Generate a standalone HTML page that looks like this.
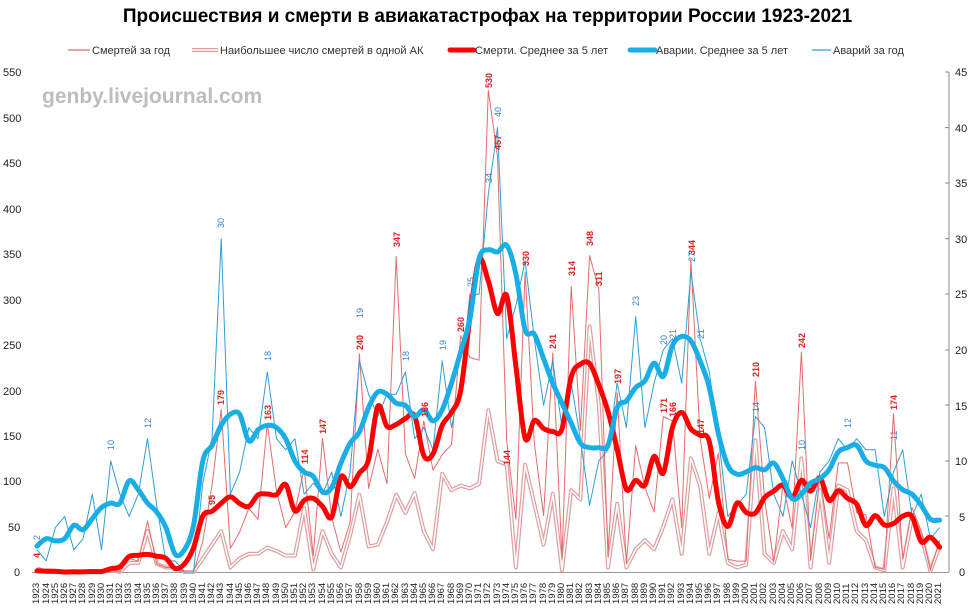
<!DOCTYPE html>
<html><head><meta charset="utf-8">
<style>
body{margin:0;background:#fff;width:975px;height:615px;overflow:hidden;position:relative;font-family:"Liberation Sans Narrow","Liberation Sans",sans-serif}
#t{position:absolute;left:0;top:6px;width:975px;text-align:center;font:bold 19px "Liberation Sans Narrow","Liberation Sans",sans-serif;color:#000}
#years{position:absolute;left:32.4px;top:577px;height:30px;display:flex}
#years span{width:9.21px;height:30px;position:relative}
#years span i{position:absolute;left:0;top:0;font-style:normal;font-size:9.5px;line-height:9px;transform-origin:0 0;transform:translate(0px,27px) rotate(-90deg);white-space:nowrap;color:#222;font-family:"Liberation Sans",sans-serif}
svg{position:absolute;left:0;top:0}
</style></head><body>
<div id="t">Происшествия и смерти в авиакатастрофах на территории России 1923-2021</div>
<svg id="s" width="975" height="615" xmlns="http://www.w3.org/2000/svg" font-family="Liberation Sans Narrow, Liberation Sans, sans-serif">
<g font-size="11" fill="#333">
<line x1="68" y1="50" x2="90" y2="50" stroke="#e46c6c" stroke-width="1.3"/><text x="92" y="54">Смертей за год</text>
<line x1="192" y1="50" x2="218" y2="50" stroke="#e0a0a0" stroke-width="4"/><line x1="192" y1="50" x2="218" y2="50" stroke="#fff" stroke-width="1.5"/><text x="220" y="54">Наибольшее число смертей в одной АК</text>
<line x1="450" y1="50" x2="474" y2="50" stroke="#f00" stroke-width="5" stroke-linecap="round"/><text x="475" y="54">Смерти. Среднее за 5 лет</text>
<line x1="630" y1="50" x2="655" y2="50" stroke="#1aaee6" stroke-width="5" stroke-linecap="round"/><text x="656" y="54">Аварии. Среднее за 5 лет</text>
<line x1="812" y1="50" x2="831" y2="50" stroke="#2e9fd8" stroke-width="1.3"/><text x="833" y="54">Аварий за год</text>
</g>
<text x="42" y="103" font-size="21" font-weight="bold" fill="#bdbdbd" font-family="Liberation Sans, sans-serif">genby.livejournal.com</text>
<g font-size="11" fill="#222" text-anchor="start">
<text x="3" y="76">550</text><text x="3" y="122">500</text><text x="3" y="167">450</text><text x="3" y="213">400</text><text x="3" y="258">350</text><text x="3" y="304">300</text><text x="3" y="349">250</text><text x="3" y="395">200</text><text x="3" y="440">150</text><text x="3" y="485">100</text><text x="8" y="531">50</text><text x="14" y="576">0</text>
<text x="955" y="76">45</text><text x="955" y="132">40</text><text x="955" y="187">35</text><text x="955" y="243">30</text><text x="955" y="298">25</text><text x="955" y="354">20</text><text x="955" y="410">15</text><text x="955" y="465">10</text><text x="959" y="521">5</text><text x="959" y="576">0</text>
</g>
<line x1="949" y1="72" x2="949" y2="572" stroke="#888"/>
<g stroke="#888"><line x1="945" y1="72" x2="949" y2="72"/><line x1="945" y1="127.6" x2="949" y2="127.6"/><line x1="945" y1="183" x2="949" y2="183"/><line x1="945" y1="238.7" x2="949" y2="238.7"/><line x1="945" y1="294" x2="949" y2="294"/><line x1="945" y1="350" x2="949" y2="350"/><line x1="945" y1="405" x2="949" y2="405"/><line x1="945" y1="461" x2="949" y2="461"/><line x1="945" y1="516" x2="949" y2="516"/></g>
<line x1="32" y1="572.5" x2="949" y2="572.5" stroke="#999"/>
<g id="lines"></g>
<g font-size="9" font-weight="bold" fill="#e02020">
<text transform="translate(224,405) rotate(-90)">179</text>
<text transform="translate(271,420) rotate(-90)">163</text>
<text transform="translate(308,464) rotate(-90)">114</text>
<text transform="translate(326,434) rotate(-90)">147</text>
<text transform="translate(363,350) rotate(-90)">240</text>
<text transform="translate(400,247) rotate(-90)">347</text>
<text transform="translate(428,417) rotate(-90)">166</text>
<text transform="translate(464,332) rotate(-90)">260</text>
<text transform="translate(492,88) rotate(-90)">530</text>
<text transform="translate(501,150) rotate(-90)">457</text>
<text transform="translate(529,266) rotate(-90)">330</text>
<text transform="translate(556,349) rotate(-90)">241</text>
<text transform="translate(575,276) rotate(-90)">314</text>
<text transform="translate(593,246) rotate(-90)">348</text>
<text transform="translate(602,286) rotate(-90)">311</text>
<text transform="translate(621,384) rotate(-90)">197</text>
<text transform="translate(667,413) rotate(-90)">171</text>
<text transform="translate(676,417) rotate(-90)">166</text>
<text transform="translate(695,255) rotate(-90)">344</text>
<text transform="translate(704,434) rotate(-90)">147</text>
<text transform="translate(759,377) rotate(-90)">210</text>
<text transform="translate(805,348) rotate(-90)">242</text>
<text transform="translate(897,410) rotate(-90)">174</text>
<text transform="translate(510,465) rotate(-90)">144</text>
<text transform="translate(215,505) rotate(-90)">95</text>
<text transform="translate(40,558) rotate(-90)">4</text>
</g>
<g font-size="9" fill="#3a7fd0">
<text transform="translate(224,228) rotate(-90)">30</text>
<text transform="translate(271,361) rotate(-90)">18</text>
<text transform="translate(151,428) rotate(-90)">12</text>
<text transform="translate(114,450) rotate(-90)">10</text>
<text transform="translate(363,318) rotate(-90)">19</text>
<text transform="translate(409,361) rotate(-90)">18</text>
<text transform="translate(446,350) rotate(-90)">19</text>
<text transform="translate(474,287) rotate(-90)">25</text>
<text transform="translate(492,183) rotate(-90)">34</text>
<text transform="translate(501,117) rotate(-90)">40</text>
<text transform="translate(639,306) rotate(-90)">23</text>
<text transform="translate(695,262) rotate(-90)">27</text>
<text transform="translate(676,339) rotate(-90)">21</text>
<text transform="translate(667,345) rotate(-90)">20</text>
<text transform="translate(704,339) rotate(-90)">21</text>
<text transform="translate(759,412) rotate(-90)">14</text>
<text transform="translate(851,428) rotate(-90)">12</text>
<text transform="translate(805,450) rotate(-90)">10</text>
<text transform="translate(897,440) rotate(-90)">11</text>
<text transform="translate(40,540) rotate(-90)">2</text>
</g>
</svg>
<div id="years"><span><i>1923</i></span><span><i>1924</i></span><span><i>1925</i></span><span><i>1926</i></span><span><i>1927</i></span><span><i>1928</i></span><span><i>1929</i></span><span><i>1930</i></span><span><i>1931</i></span><span><i>1932</i></span><span><i>1933</i></span><span><i>1934</i></span><span><i>1935</i></span><span><i>1936</i></span><span><i>1937</i></span><span><i>1938</i></span><span><i>1939</i></span><span><i>1940</i></span><span><i>1941</i></span><span><i>1942</i></span><span><i>1943</i></span><span><i>1944</i></span><span><i>1945</i></span><span><i>1946</i></span><span><i>1947</i></span><span><i>1948</i></span><span><i>1949</i></span><span><i>1950</i></span><span><i>1951</i></span><span><i>1952</i></span><span><i>1953</i></span><span><i>1954</i></span><span><i>1955</i></span><span><i>1956</i></span><span><i>1957</i></span><span><i>1958</i></span><span><i>1959</i></span><span><i>1960</i></span><span><i>1961</i></span><span><i>1962</i></span><span><i>1963</i></span><span><i>1964</i></span><span><i>1965</i></span><span><i>1966</i></span><span><i>1967</i></span><span><i>1968</i></span><span><i>1969</i></span><span><i>1970</i></span><span><i>1971</i></span><span><i>1972</i></span><span><i>1973</i></span><span><i>1974</i></span><span><i>1975</i></span><span><i>1976</i></span><span><i>1977</i></span><span><i>1978</i></span><span><i>1979</i></span><span><i>1980</i></span><span><i>1981</i></span><span><i>1982</i></span><span><i>1983</i></span><span><i>1984</i></span><span><i>1985</i></span><span><i>1986</i></span><span><i>1987</i></span><span><i>1988</i></span><span><i>1989</i></span><span><i>1990</i></span><span><i>1991</i></span><span><i>1992</i></span><span><i>1993</i></span><span><i>1994</i></span><span><i>1995</i></span><span><i>1996</i></span><span><i>1997</i></span><span><i>1998</i></span><span><i>1999</i></span><span><i>2000</i></span><span><i>2001</i></span><span><i>2002</i></span><span><i>2003</i></span><span><i>2004</i></span><span><i>2005</i></span><span><i>2006</i></span><span><i>2007</i></span><span><i>2008</i></span><span><i>2009</i></span><span><i>2010</i></span><span><i>2011</i></span><span><i>2012</i></span><span><i>2013</i></span><span><i>2014</i></span><span><i>2015</i></span><span><i>2016</i></span><span><i>2017</i></span><span><i>2018</i></span><span><i>2019</i></span><span><i>2020</i></span><span><i>2021</i></span></div>
<script>
var D=[4,0,0,0,0,0,1,0,2,0,15,12,56,9,5,5,0,0,34,95,179,26,44,70,58,163,89,49,66,114,18,147,60,22,55,240,92,135,97,347,130,103,166,112,129,140,260,236,233,530,457,144,58,330,142,62,241,14,314,156,348,311,17,197,9,139,93,66,171,166,49,344,147,81,131,14,12,12,210,80,11,96,48,242,13,105,37,120,120,65,63,5,3,174,14,71,45,2,35];
var M=[4,0,0,0,0,0,1,0,2,0,10,10,45,9,5,5,0,0,15,30,45,5,15,20,20,27,23,18,18,70,3,45,20,5,40,85,28,30,55,85,65,87,45,25,108,90,95,92,97,178,122,118,5,118,75,30,86,2,90,80,270,185,5,75,5,25,35,25,50,80,20,125,95,20,65,10,5,8,145,20,10,45,25,125,5,90,10,95,90,45,35,5,2,92,5,60,40,1,28];
var A=[2,1,4,5,2,3,7,2,10,7,5,7,12,6,1,1,0,0,8,12,30,7,9,13,12,18,12,11,12,7,8,7,9,5,9,19,16,14,16,16,18,12,13,11,19,13,17,25,25,34,40,21,24,28,21,15,19,13,17,12,6,10,11,17,13,23,13,17,20,21,17,27,21,18,12,5,6,7,14,13,7,5,10,7,4,9,10,12,11,12,11,11,5,9,11,5,7,3,4];
function X(i){return 37+9.21*i}
function YL(v){return 572-v*500/550}
function YR(a){return 572-a*500/45}
function ma(arr){var r=[];for(var i=0;i<arr.length;i++){var s=0,n=0;for(var j=i-2;j<=i+2;j++){if(j>=0&&j<arr.length){s+=arr[j];n++}}r.push(s/n)}return r}
function poly(arr,f){return arr.map(function(v,i){return X(i).toFixed(1)+','+f(v).toFixed(1)}).join(' ')}
function smooth(arr,f){var p=arr.map(function(v,i){return[X(i),f(v)]});var d='M'+p[0][0]+','+p[0][1];for(var i=0;i<p.length-1;i++){var p0=p[i-1]||p[i],p1=p[i],p2=p[i+1],p3=p[i+2]||p2;var c1=[p1[0]+(p2[0]-p0[0])/6,p1[1]+(p2[1]-p0[1])/6],c2=[p2[0]-(p3[0]-p1[0])/6,p2[1]-(p3[1]-p1[1])/6];d+=' C'+c1[0].toFixed(1)+','+c1[1].toFixed(1)+' '+c2[0].toFixed(1)+','+c2[1].toFixed(1)+' '+p2[0].toFixed(1)+','+p2[1].toFixed(1)}return d}
var g=document.getElementById('lines'),h='';
h+='<polyline points="'+poly(M,YL)+'" fill="none" stroke="#e0a0a0" stroke-width="4" stroke-linejoin="round"/>';
h+='<polyline points="'+poly(M,YL)+'" fill="none" stroke="#fff" stroke-width="1.5" stroke-linejoin="round"/>';
h+='<polyline points="'+poly(D,YL)+'" fill="none" stroke="#e46c6c" stroke-width="1" stroke-linejoin="round"/>';
h+='<polyline points="'+poly(A,YR)+'" fill="none" stroke="#2e9fd8" stroke-width="1" stroke-linejoin="round"/>';
h+='<path d="'+smooth(ma(D),YL)+'" fill="none" stroke="#f00" stroke-width="5" stroke-linecap="round"/>';
h+='<path d="'+smooth(ma(A),YR)+'" fill="none" stroke="#1aaee6" stroke-width="5" stroke-linecap="round"/>';
g.innerHTML=h;
</script>
</body></html>
